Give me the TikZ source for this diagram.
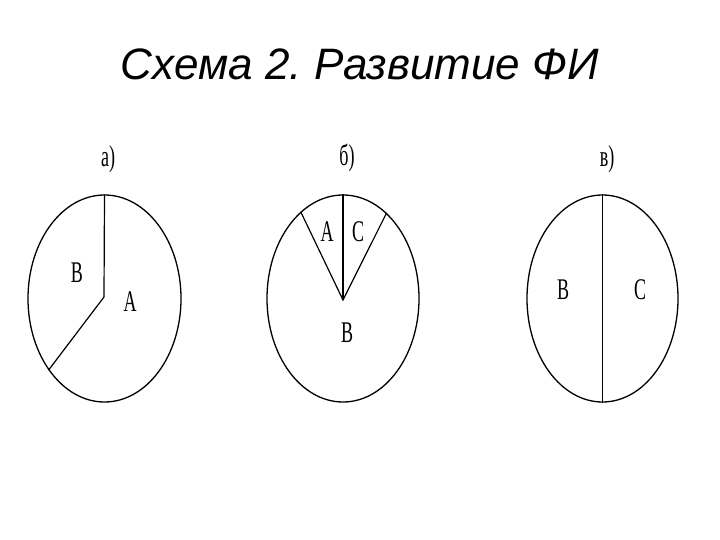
\documentclass[tikz,border=0pt]{standalone}
\usepackage{fontspec}
\setmainfont{Liberation Sans}
\newfontfamily\lblfont[FakeStretch=0.6]{Liberation Serif}
\usetikzlibrary{shapes.geometric}
\frenchspacing
\begin{document}
\begin{tikzpicture}[x=1pt,y=-1pt,
  oval/.style={draw, ellipse, line width=1.3pt, inner sep=0pt},
  seg/.style={draw, line width=1.2pt},
  lbl/.style={inner sep=0pt, font=\lblfont\fontsize{30}{30}\selectfont},
  ttl/.style={inner sep=0pt, font=\itshape\fontsize{44}{44}\selectfont}]
\useasboundingbox[fill=white] (0,0) rectangle (720,540);
\node[ttl, anchor=base] (title) at (360,80) {Схема 2. Развитие ФИ};
% a)
\node[oval, minimum width=153pt, minimum height=207pt] (ea) at (104.5,298.5) {};
\coordinate (ca) at (104,297);
\draw[seg] (ea.north) -- (ca) -- (ea.232.8);
\node[lbl] (la) at (108,159) {а)};
\node[lbl] (aB) at (77,273) {B};
\node[lbl] (aA) at (130,302) {A};
% б)
\node[oval, minimum width=152pt, minimum height=207pt] (eb) at (343,298.5) {};
\coordinate (cb) at (343,300);
\draw[seg] (eb.north) -- (cb);
\draw[seg] (eb.116.2) -- (cb) -- (eb.63.6);
\node[lbl] (lb) at (347,158) {б)};
\node[lbl] (bA) at (327,232) {A};
\node[lbl] (bC) at (358,232) {C};
\node[lbl] (bB) at (347,333) {B};
% в)
\node[oval, minimum width=151pt, minimum height=207pt] (ec) at (602.5,298.5) {};
\draw[seg] (ec.north) -- (ec.south);
\node[lbl] (lc) at (607,159) {в)};
\node[lbl] (cB) at (563,290) {B};
\node[lbl] (cC) at (640,290) {C};
\end{tikzpicture}
\end{document}
